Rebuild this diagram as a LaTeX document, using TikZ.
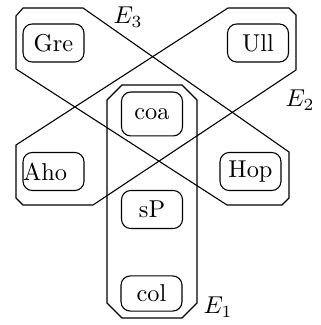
\documentclass[tikz,border=0pt]{standalone}
\begin{document}
\begin{tikzpicture}[x=0.41pt,y=-0.41pt, line width=0.45pt,
  vtx/.style={draw, rounded corners=3.8pt, minimum width=25pt, minimum height=15.6pt, inner sep=2pt},
  hedge/.style={draw, line join=miter}]
\useasboundingbox (0,0) rectangle (320,325);
% vertices
\node[vtx] (gre) at (53.5,43) {Gre};
\node[vtx] (ull) at (258,43) {Ull};
\node[vtx, text width=25pt, inner xsep=0pt, align=left] (aho) at (53.5,171.5) {Aho};
\node[vtx] (hop) at (250.5,171.5) {Hop};
\node[vtx, minimum height=18pt] (coa) at (152,114) {coa};
\node[vtx] (sp) at (152,209.5) {sP};
\node[vtx, minimum height=14.4pt] (col) at (151.5,293.5) {col};
% hyperedges
\draw[hedge] (122,85) -- (182,85) -- (197,100) -- (197,303) -- (182,318) -- (122,318) -- (107,303) -- (107,100) -- cycle;
\draw[hedge] (228,8) -- (289,8) -- (296,15) -- (296,70) -- (93,205) -- (23,205) -- (16,198) -- (16,145) -- cycle;
\draw[hedge] (23,8) -- (83,8) -- (289,152) -- (289,198) -- (282,205) -- (227,205) -- (16,69) -- (16,16) -- cycle;
% labels
\node (l1) at (218,307) {$E_1$};
\node (l2) at (300,100) {$E_2$};
\node (l3) at (128,17) {$E_3$};
\end{tikzpicture}
\end{document}
